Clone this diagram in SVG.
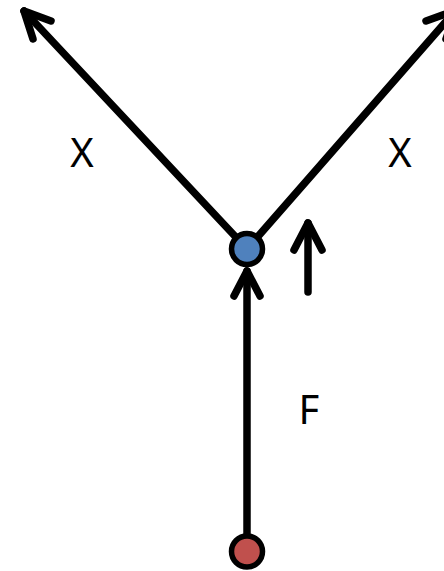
<svg xmlns="http://www.w3.org/2000/svg" width="444" height="571" viewBox="0 0 444 571">
<style>
.c{fill:none;stroke:#000;stroke-width:7.5;stroke-linecap:round;stroke-linejoin:round}
.n{stroke:#000;stroke-width:5.5}
.t{font-family:"Noto Sans","Liberation Sans",sans-serif;font-size:40px;fill:#000;text-anchor:middle}
</style>
<rect width="444" height="571" fill="#fff"/>
<g id="connectors">
<line class="c" x1="247" y1="249" x2="24" y2="11"/>
<polyline class="c" points="51,21 24,11 33,39"/>
<line class="c" x1="247" y1="249" x2="456" y2="10"/>
<polyline class="c" points="426,21 456,10 446,39"/>
<line class="c" x1="247" y1="551" x2="247" y2="271"/>
<polyline class="c" points="234,296 247,271 260,296"/>
<line class="c" x1="308" y1="292" x2="308" y2="223"/>
<polyline class="c" points="294,250 308,223 322,250"/>
</g>
<g id="node-top"><circle class="n" cx="247" cy="249" r="15.5" fill="#4f81bd"/></g>
<g id="node-bottom"><circle class="n" cx="247" cy="551.5" r="15.5" fill="#c0504d"/></g>
<g id="labels">
<text class="t" x="82" y="167">X</text>
<text class="t" x="400" y="167">X</text>
<text class="t" x="309" y="424">F</text>
</g>
</svg>
